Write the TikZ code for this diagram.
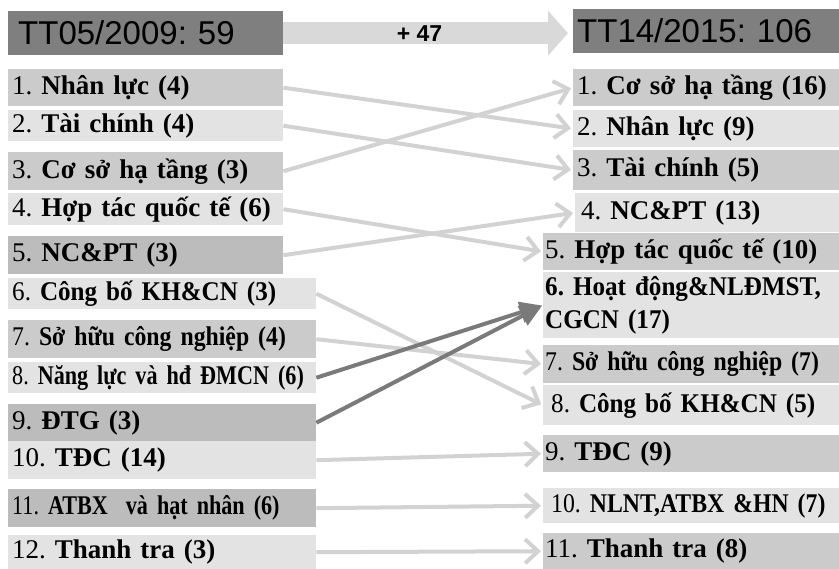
\documentclass[tikz,border=0pt]{standalone}
\usepackage{fontspec}
\setmainfont{Liberation Serif}
\setsansfont{Liberation Sans}
\newfontfamily\semifont[FakeStretch=0.93, WordSpace=0.8]{Liberation Serif}
\newfontfamily\tightfont[FakeStretch=0.88, WordSpace=0.7]{Liberation Serif}
\newfontfamily\narrowfont[FakeStretch=0.82, WordSpace=0.6]{Liberation Serif}
\usetikzlibrary{arrows.meta, positioning}
\definecolor{headgray}{HTML}{7F7F7F}
\definecolor{darkbox}{HTML}{BCBCBC}
\definecolor{midbox}{HTML}{CBCBCB}
\definecolor{lightbox}{HTML}{E3E3E3}
\definecolor{bargray}{HTML}{D9D9D9}
\definecolor{linkgray}{HTML}{D2D2D2}
\definecolor{movegray}{HTML}{7A7A7A}

\begin{document}
\begin{tikzpicture}[x=1pt, y=-1pt,
  item/.style={anchor=north west, inner xsep=4pt, inner ysep=0pt,
    align=left, font=\fontsize{27}{33}\selectfont\frenchspacing},
  lbox/.style={item, text width=267pt},
  lwide/.style={item, text width=300pt},
  rbox/.style={item, text width=258pt},
  rwide/.style={item, inner xsep=2pt, text width=292pt},
  headbox/.style={anchor=north west, fill=headgray, inner ysep=0pt,
    minimum height=44pt, align=left,
    font=\sffamily\fontsize{33}{38}\selectfont\frenchspacing},
  link/.style={-{Straight Barb[length=13pt, width=24pt]}, draw=linkgray,
    line width=4pt, shorten >=2pt},
  move/.style={-{Triangle[length=22pt, width=21pt]}, draw=movegray,
    line width=4pt, shorten >=1pt},
  bigarrow/.style={-{Triangle[length=20pt, width=44pt]}, draw=bargray,
    line width=22pt, shorten >=5pt},
]
\useasboundingbox (0,0) rectangle (839,569);

\node[headbox, inner xsep=10pt, text width=255pt] (lhead) at (8, 11) {TT05/2009: 59};
\node[headbox, inner xsep=4pt, text width=258pt]  (rhead) at (573, 9) {TT14/2015: 106};
\draw[bigarrow] (lhead.east) -- (lhead.east -| rhead.west)
  node[pos=0.47, font=\sffamily\bfseries\fontsize{23}{26}\selectfont] {+ 47};

\node[lbox,  fill=midbox,   minimum height=37pt] (l1)  at (8, 69)  {1. \textbf{Nhân lực (4)}};
\node[lbox,  fill=lightbox, minimum height=31pt] (l2)  at (8, 110) {2. \textbf{Tài chính (4)}};
\node[lbox,  fill=midbox,   minimum height=38pt] (l3)  at (8, 152) {3. \textbf{Cơ sở hạ tầng (3)}};
\node[lbox,  fill=lightbox, minimum height=32pt] (l4)  at (8, 193) {4. \textbf{Hợp tác quốc tế (6)}};
\node[lbox,  fill=darkbox,  minimum height=38pt] (l5)  at (8, 236) {5. \textbf{NC\&PT (3)}};
\node[lwide, fill=lightbox, minimum height=31pt] (l6)  at (8, 278) {\semifont 6. \textbf{Công bố KH\&CN (3)}};
\node[lwide, fill=midbox,   minimum height=38pt] (l7)  at (8, 320) {\tightfont 7. \textbf{Sở hữu công nghiệp (4)}};
\node[lwide, fill=lightbox, minimum height=31pt] (l8)  at (8, 362) {\narrowfont 8. \textbf{Năng lực và hđ ĐMCN (6)}};
\node[lwide, fill=darkbox,  minimum height=37pt] (l9)  at (8, 404) {9. \textbf{ĐTG (3)}};
\node[lwide, fill=lightbox, minimum height=38pt] (l10) at (8, 441) {10. \textbf{TĐC (14)}};
\node[lwide, fill=darkbox,  minimum height=38pt] (l11) at (8, 489) {\narrowfont 11. \textbf{ATBX\ \ và hạt nhân (6)}};
\node[lwide, fill=lightbox, minimum height=34pt] (l12) at (8, 535) {12. \textbf{Thanh tra (3)}};

\node[rbox,  fill=midbox,   minimum height=37pt] (r1)  at (573, 69)  {1. \textbf{Cơ sở hạ tầng (16)}};
\node[rbox,  fill=lightbox, minimum height=37pt] (r2)  at (573, 110) {2. \textbf{Nhân lực (9)}};
\node[rbox,  fill=midbox,   minimum height=40pt] (r3)  at (573, 150) {3. \textbf{Tài chính (5)}};
\node[rbox,  fill=lightbox, minimum height=39pt, inner xsep=6pt] (r4) at (575, 193) {4. \textbf{NC\&PT (13)}};
\node[rwide, fill=midbox,   minimum height=37pt] (r5)  at (543, 233) {5. \textbf{Hợp tác quốc tế (10)}};
\node[rwide, fill=lightbox, minimum height=66pt] (r6)  at (543, 272)
  {\semifont\bfseries \mbox{6. Hoạt động\&NLĐMST,}\\CGCN (17)};
\node[rwide, fill=midbox,   minimum height=38pt] (r7)  at (543, 345) {\tightfont 7. \textbf{Sở hữu công nghiệp (7)}};
\node[rwide, fill=lightbox, minimum height=40pt, inner xsep=8pt] (r8) at (543, 385) {\semifont 8. \textbf{Công bố KH\&CN (5)}};
\node[rwide, fill=midbox,   minimum height=37pt] (r9)  at (543, 435) {9. \textbf{TĐC (9)}};
\node[rwide, fill=lightbox, minimum height=35pt, inner xsep=8pt] (r10) at (543, 488) {\tightfont 10. \textbf{NLNT,ATBX \&HN (7)}};
\node[rwide, fill=midbox,   minimum height=36pt] (r11) at (543, 533) {11. \textbf{Thanh tra (8)}};

\foreach \a/\b in {l1/r2, l2/r3, l3/r1, l4/r5, l5/r4, l6/r8, l7/r7, l10/r9, l11/r10, l12/r11} {
  \draw[link] (\a.east) -- (\b.west);
}
\foreach \a in {l8, l9} {
  \draw[move] (\a.east) -- (r6.west);
}
\end{tikzpicture}
\end{document}
